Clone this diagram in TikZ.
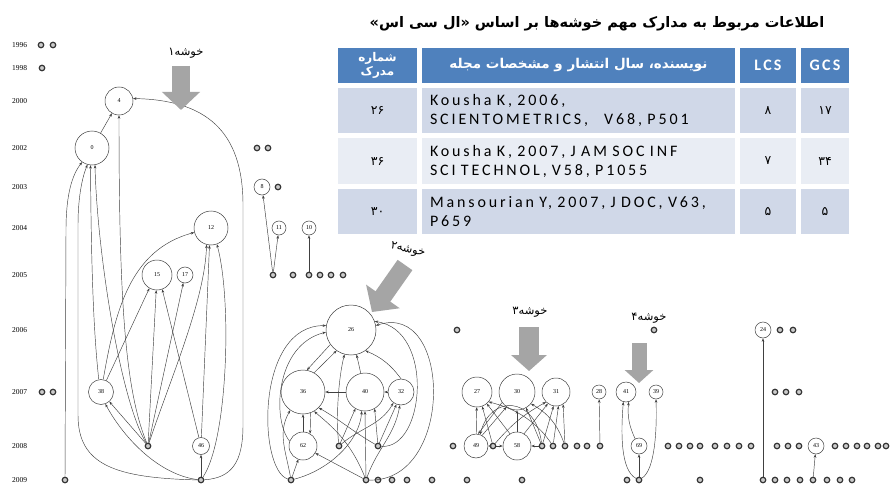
\documentclass[tikz,border=0pt]{standalone}
\usepackage{fontspec}
\setmainfont{Liberation Serif}
\newfontfamily\farsi[Script=Arabic]{DejaVu Sans}
\newfontfamily\latinsp[LetterSpace=18]{Carlito}
\newfontfamily\latinhd[LetterSpace=14]{Carlito}
\TeXXeTstate=1
\usetikzlibrary{arrows.meta,positioning}
\definecolor{headcol}{RGB}{79,129,189}
\definecolor{rowdark}{RGB}{208,216,232}
\definecolor{rowlight}{RGB}{233,237,244}
\definecolor{pointcol}{RGB}{165,165,165}

\begin{document}
\begin{tikzpicture}[x=1pt,y=-1pt,
  paper/.style={circle,draw=black!75,line width=0.5pt,inner sep=0pt,font=\fontsize{6}{6}\selectfont},
  tinyp/.style={circle,draw=black!80,fill=black!20,line width=1.2pt,minimum size=5.5pt,inner sep=0pt},
  yearlab/.style={font=\fontsize{7.5}{8}\selectfont,anchor=west,inner sep=0pt},
  cite/.style={-{Stealth[length=3.5pt,width=2.6pt]},black!75,line width=0.45pt},
  pointer/.style n args={3}{pointcol,line width=#1,-{Triangle[length=#2,width=#3]}},
  cell/.style={rectangle,inner sep=0pt,minimum height=45pt},
  clabel/.style={font=\farsi\fontsize{11.5}{13}\selectfont,inner sep=1pt}]
\fill[white] (0,0) rectangle (891,484);
\useasboundingbox (0,0) rectangle (891,484);
% years
\foreach \yr/\yy in {1996/45,1998/68,2000/101,2002/148,2003/187,2004/228,2005/275,2006/330,2007/392,2008/446,2009/480}
  \node[yearlab] (yr\yr) at (12,\yy) {\yr};
% isolated papers, row by row
\foreach \yy/\xs in {45/{41,53},68/{42},148/{257,268},187/{278},275/{293,320,331,343},330/{457,654,780,793},392/{42,53,775,786,799},
  446/{453,577,587,668,679,690,700,715,727,739,751,777,788,799,835,846,857,867,878,886},
  480/{378,392,407,432,467,522,627,700,775,787,800,827,840,852}}{
  \foreach \x [count=\i] in \xs
    \node[tinyp] (p\yy-\i) at (\x,\yy) {};
}
% linked small papers
\node[tinyp] (d05a) at (273,275) {};
\node[tinyp] (d05c) at (309,275) {};
\node[tinyp] (d08a) at (148,446) {};
\node[tinyp] (d08c) at (339,446) {};
\node[tinyp] (d08d) at (378,446) {};
\node[tinyp] (d08f) at (493,446) {};
\node[tinyp] (d08g) at (542,446) {};
\node[tinyp] (d08h) at (553,446) {};
\node[tinyp] (d08i) at (565,446) {};
\node[tinyp] (d08l) at (600,446) {};
\node[tinyp] (d09a) at (65,480) {};
\node[tinyp] (d09b) at (201,480) {};
\node[tinyp] (d09c) at (291,480) {};
\node[tinyp] (d09d) at (366,480) {};
\node[tinyp] (d09f) at (639,480) {};
\node[tinyp] (d09g) at (763,480) {};
\node[tinyp] (d09h) at (813,480) {};
% papers
\node[paper,minimum size=28pt] (n4) at (119,101) {4};
\node[paper,minimum size=34pt] (n0) at (92,148) {0};
\node[paper,minimum size=34pt] (n12) at (211,228) {12};
\node[paper,minimum size=30pt] (n15) at (157,275) {15};
\node[paper,minimum size=16pt] (n17) at (185,275) {17};
\node[paper,minimum size=25pt] (n38) at (101,392) {38};
\node[paper,minimum size=17pt] (n46) at (201,446) {46};
\node[paper,minimum size=16pt] (n8) at (262,187) {8};
\node[paper,minimum size=14pt] (n11) at (279,228) {11};
\node[paper,minimum size=14pt] (n10) at (309,228) {10};
\node[paper,minimum size=50pt] (n26) at (351,330) {26};
\node[paper,minimum size=44pt] (n36) at (303,392) {36};
\node[paper,minimum size=38pt] (n40) at (365,392) {40};
\node[paper,minimum size=26pt] (n32) at (401,392) {32};
\node[paper,minimum size=28pt] (n62) at (303,446) {62};
\node[paper,minimum size=30pt] (n27) at (477,392) {27};
\node[paper,minimum size=36pt] (n30) at (517,392) {30};
\node[paper,minimum size=28pt] (n31) at (556,392) {31};
\node[paper,minimum size=24pt] (n49) at (476,446) {49};
\node[paper,minimum size=28pt] (n58) at (517,446) {58};
\node[paper,minimum size=14pt] (n28) at (599,392) {28};
\node[paper,minimum size=20pt] (n41) at (626,392) {41};
\node[paper,minimum size=14pt] (n39) at (656,392) {39};
\node[paper,minimum size=16pt] (n69) at (639,446) {69};
\node[paper,minimum size=16pt] (n24) at (763,330) {24};
\node[paper,minimum size=16pt] (n43) at (816,446) {43};
% cluster 1
\draw[cite] (n0) -- (n4);
\draw[cite] (d09a) -- (66,230) .. controls (66,195) and (72,175) .. (n0.235);
\draw[cite] (d09b) .. controls (115,478) and (78,465) .. (78,415) -- (78,225) .. controls (78,195) and (83,175) .. (n0.255);
\draw[cite] (d09b) .. controls (232,478) and (243,462) .. (243,425) -- (243,205) .. controls (243,130) and (205,100) .. (n4.10);
\draw[cite] (d08a) .. controls (125,390) and (119,300) .. (n4.south);
\draw[cite] (d08a) .. controls (120,400) and (97,250) .. (n0.280);
\draw[cite] (n38.100) .. controls (92,320) and (91,230) .. (n0.265);
\draw[cite] (n38.80) to[out=80,in=195] (n12.195);
\draw[cite] (n38) -- (n15.240);
\draw[cite] (d08a) -- (n15);
\draw[cite] (d08a) -- (n17);
\draw[cite] (d08a) .. controls (170,380) and (205,300) .. (n12.255);
\draw[cite] (d08a) -- (n38);
\draw[cite] (n46) -- (n15.290);
\draw[cite] (n46) -- (n12.265);
\draw[cite] (d09b) -- (n46);
\draw[cite] (d09b) .. controls (228,440) and (232,300) .. (n12.290);
\draw[cite] (d09b) .. controls (160,475) and (125,440) .. (n38.290);
\draw[cite] (d05a) -- (n8);
\draw[cite] (d05a) -- (n11);
\draw[cite] (d05c) -- (n10);
% cluster 2
\draw[cite] (n36.60) -- (n26.235);
\draw[cite] (n26.215) -- (n36.80);
\draw[cite] (n40) -- (n26);
\draw[cite] (n32.north) to[bend right=15] (n26.305);
\draw[cite] (n40) -- (n36);
\draw[cite] (n32) -- (n40);
\draw[cite] (d08c) .. controls (336,420) and (338,380) .. (n26.255);
\draw[cite] (d08c) -- (n40.240);
\draw[cite] (d08c) to[out=40,in=-120] (n32.235);
\draw[cite] (d08d) to[out=150,in=-30] (n36.315);
\draw[cite] (d08d) -- (n40.300);
\draw[cite] (d08d) -- (n32.250);
\draw[cite] (d08d) .. controls (425,450) and (435,330) .. (n26.20);
\draw[cite] (d09d) .. controls (455,482) and (452,300) .. (n26.10);
\draw[cite] (d09c) .. controls (258,470) and (255,325) .. (n26.170);
\draw[cite] (n62.160) .. controls (272,420) and (275,345) .. (n26.185);
\draw[cite] (n62) -- (n36);
\draw[cite] (n36.290) -- (n62.60);
\draw[cite] (d09c) -- (n62);
\draw[cite] (d09c) to[out=100,in=-120] (n36.235);
\draw[cite] (d09c) .. controls (330,470) and (360,440) .. (n40.260);
\draw[cite] (d09d) -- (n62.330);
\draw[cite] (d09d) -- (n40.south);
\draw[cite] (d09d) .. controls (350,440) and (330,425) .. (n36.300);
\draw[cite] (d09d) to[out=70,in=-100] (n32.265);
% cluster 3
\draw[cite] (n49) -- (n27);
\draw[cite] (n49.60) -- (n30.235);
\draw[cite] (n30.215) -- (n49.80);
\draw[cite] (n58) -- (n30);
\draw[cite] (n58.120) -- (n27.310);
\draw[cite] (n58.60) -- (n31.235);
\draw[cite] (d08f) -- (n49);
\draw[cite] (d08f) -- (n58);
\draw[cite] (d08f) -- (n27.290);
\draw[cite] (d08f) to[bend left=10] (n31.225);
\draw[cite] (d08g) -- (n58);
\draw[cite] (d08g) -- (n31.260);
\draw[cite] (d08g) -- (n30.300);
\draw[cite] (d08g) .. controls (535,395) and (490,395) .. (n49.70);
\draw[cite] (d08h) -- (n31.280);
\draw[cite] (d08h) .. controls (530,412) and (500,405) .. (n27.320);
\draw[cite] (d08i) -- (n31.300);
\draw[cite] (d08i) to[bend right=20] (n30.320);
% cluster 4 and the rest
\draw[cite] (d08l) -- (n28);
\draw[cite] (n69) to[bend left=15] (n41.285);
\draw[cite] (d09f) -- (n69);
\draw[cite] (d09f) .. controls (620,470) and (621,430) .. (n41.255);
\draw[cite] (d09f) .. controls (655,470) and (657,430) .. (n39.south);
\draw[cite] (d09g) -- (n24);
\draw[cite] (d09h) -- (n43);
% cluster pointers
\node[clabel] (lab1) at (186,53) {\beginR خوشه۱\endR};
\node[clabel,rotate=-12] (lab2) at (408,250) {\beginR خوشه۲\endR};
\node[clabel] (lab3) at (530,312) {\beginR خوشه۳\endR};
\node[clabel] (lab4) at (649,318) {\beginR خوشه۴\endR};
\draw[pointer={18pt}{18pt}{37pt}] (181,66) -- (181,110);
\draw[pointer={18pt}{19pt}{40pt}] (405,265) -- (372,312);
\draw[pointer={20pt}{16pt}{35pt}] (529,327) -- (529,371);
\draw[pointer={15pt}{13pt}{28pt}] (639,343) -- (639,383);
% table
\node[font=\farsi\bfseries\fontsize{14.5}{16}\selectfont] (title) at (597,24) {\beginR اطلاعات مربوط به مدارک مهم خوشه‌ها بر اساس «ال سی اس»\endR};
\node[cell,fill=headcol,minimum width=79pt,minimum height=35pt,text=white,align=center,font=\farsi\bfseries\fontsize{12}{14}\selectfont] (hnum) at (377.5,65.5) {\beginR شماره\endR\\\beginR مدرک\endR};
\node[cell,fill=headcol,minimum width=313pt,minimum height=35pt,text=white,font=\farsi\bfseries\fontsize{13.5}{15}\selectfont] (hsrc) at (578.5,65.5) {\beginR نویسنده، سال انتشار و مشخصات مجله\endR};
\node[cell,fill=headcol,minimum width=56pt,minimum height=35pt,text=white,font=\latinhd\bfseries\fontsize{16}{18}\selectfont] (hlcs) at (768,65.5) {LCS};
\node[cell,fill=headcol,minimum width=48pt,minimum height=35pt,text=white,font=\latinhd\bfseries\fontsize{16}{18}\selectfont] (hgcs) at (825,65.5) {GCS};
\foreach \rw/\yc/\col/\pnum/\src/\lcs/\gcs in {
  1/110.5/rowdark/۲۶/{Kousha K, 2006,\\SCIENTOMETRICS,\hspace{16pt}V68, P501}/۸/۱۷,
  2/161/rowlight/۳۶/{Kousha K, 2007, J AM SOC INF\\SCI TECHNOL,\hspace{5pt}V58, P1055}/۷/۳۴,
  3/211.5/rowdark/۳۰/{Mansourian Y, 2007, J DOC, V63,\\P659}/۵/۵}{
  \node[cell,fill=\col,minimum width=79pt,font=\farsi\fontsize{12.5}{14}\selectfont] (num\rw) at (377.5,\yc) {\pnum};
  \node[cell,fill=\col,text width=297pt,inner xsep=8pt,align=left,font=\latinsp\fontsize{16}{19}\selectfont] (src\rw) at (578.5,\yc) {\src};
  \node[cell,fill=\col,minimum width=56pt,font=\farsi\fontsize{12.5}{14}\selectfont] (lcs\rw) at (768,\yc) {\lcs};
  \node[cell,fill=\col,minimum width=48pt,font=\farsi\fontsize{12.5}{14}\selectfont] (gcs\rw) at (825,\yc) {\gcs};
}
\end{tikzpicture}
\end{document}
